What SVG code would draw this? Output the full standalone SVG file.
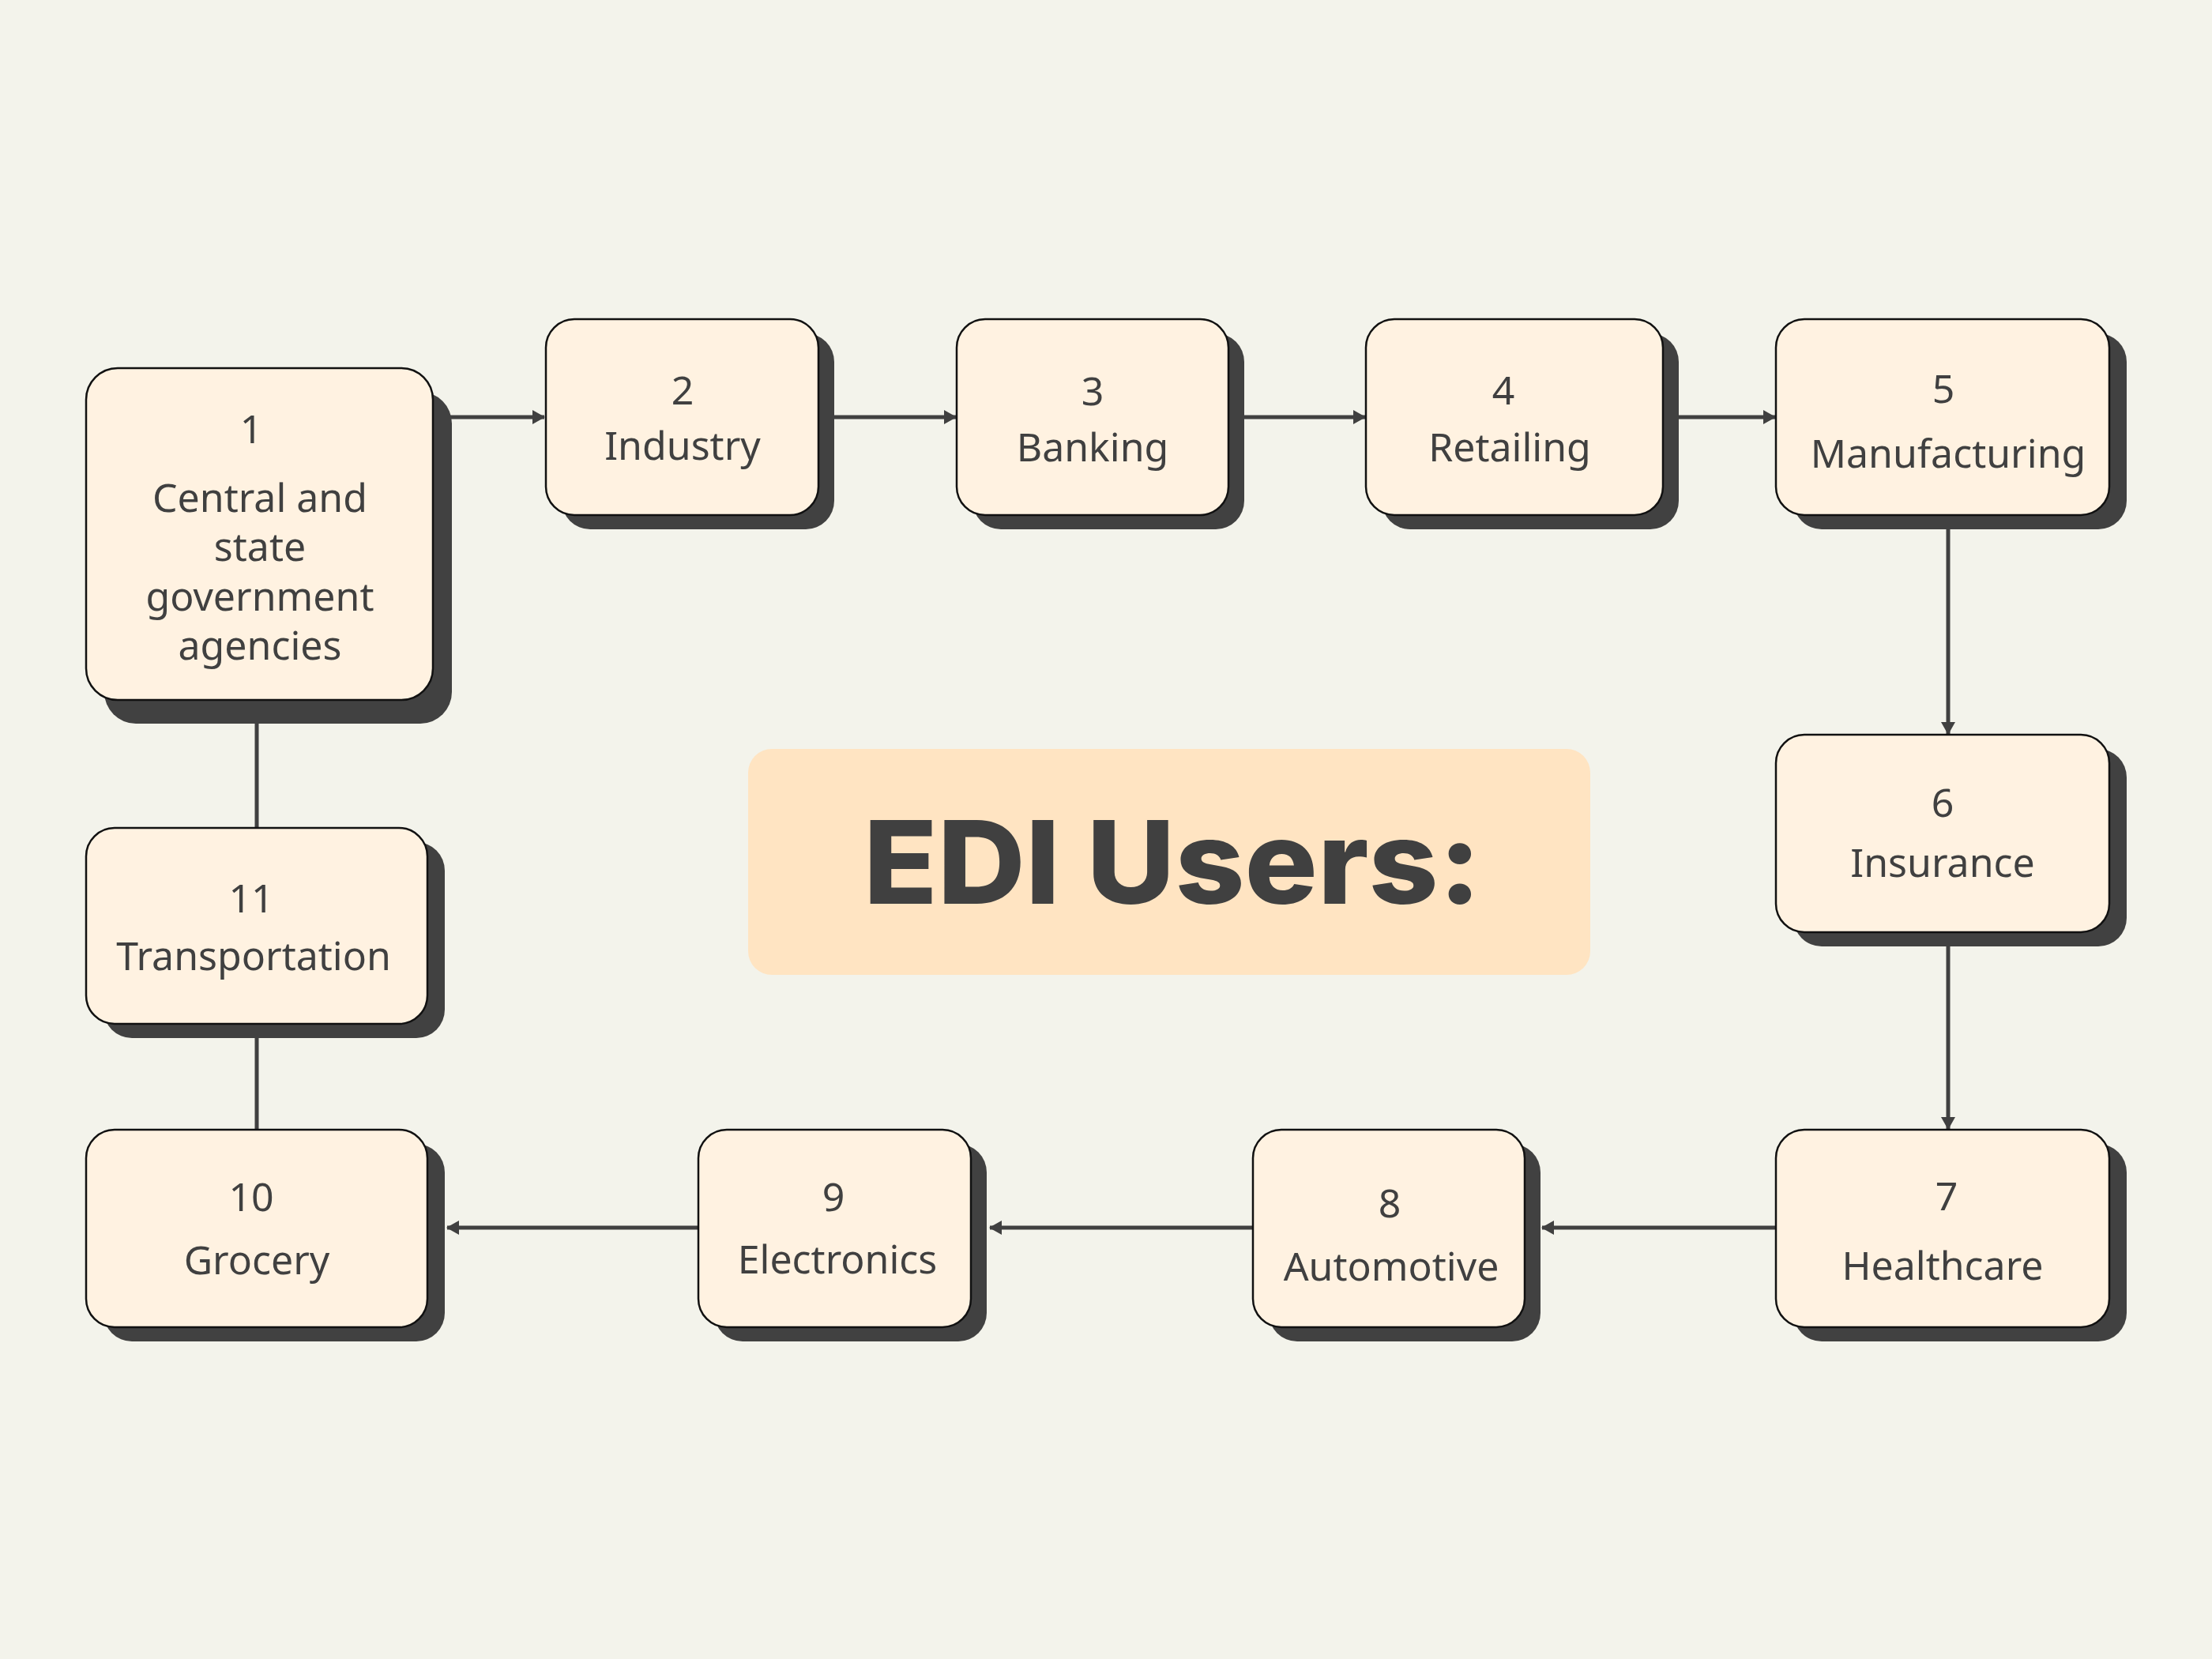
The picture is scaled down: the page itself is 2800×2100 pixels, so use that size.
<svg xmlns="http://www.w3.org/2000/svg" width="2800" height="2100" viewBox="0 0 2800 2100">
<style>
.sh{fill:#414141}
.bx{fill:#FFF2E1;stroke:#111;stroke-width:2.5}
.t{font-family:"Noto Sans","Liberation Sans",sans-serif;font-size:50px;fill:#404040;text-anchor:middle}
.c{stroke:#404040;stroke-width:5;fill:none}
.ttl{font-family:Inter,"Open Sans",sans-serif;font-weight:800;font-size:146px;fill:#404040;text-anchor:middle}
</style>
<defs>
<marker id="ah" markerUnits="userSpaceOnUse" markerWidth="16" markerHeight="18" refX="15" refY="9" orient="auto">
<path d="M0,0 L16,9 L0,18 z" fill="#404040"/>
</marker>
</defs>
<rect x="0" y="0" width="2800" height="2100" fill="#F3F3EB"/>
<g id="connectors">
<line class="c" x1="548" y1="528" x2="689" y2="528" marker-end="url(#ah)"/>
<line class="c" x1="1036" y1="528" x2="1210" y2="528" marker-end="url(#ah)"/>
<line class="c" x1="1555" y1="528" x2="1728" y2="528" marker-end="url(#ah)"/>
<line class="c" x1="2105" y1="528" x2="2247" y2="528" marker-end="url(#ah)"/>
<line class="c" x1="2466" y1="652" x2="2466" y2="929" marker-end="url(#ah)"/>
<line class="c" x1="2466" y1="1180" x2="2466" y2="1429" marker-end="url(#ah)"/>
<line class="c" x1="2248" y1="1554" x2="1952" y2="1554" marker-end="url(#ah)"/>
<line class="c" x1="1586" y1="1554" x2="1253" y2="1554" marker-end="url(#ah)"/>
<line class="c" x1="884" y1="1554" x2="566" y2="1554" marker-end="url(#ah)"/>
<line class="c" x1="325" y1="886" x2="325" y2="1048"/>
<line class="c" x1="325" y1="1296" x2="325" y2="1430"/>
</g>
<g id="title">
<rect x="947" y="948" width="1066" height="286" rx="30" ry="30" fill="#FFE4C2"/>
<text class="ttl" x="1484" y="1144" textLength="782" lengthAdjust="spacingAndGlyphs">EDI Users:</text>
</g>
<g id="node1">
<rect class="sh" x="132" y="496" width="440" height="420" rx="40"/>
<rect class="bx" x="109" y="466" width="439" height="420" rx="40"/>
<text class="t" x="318" y="561">1</text>
<text class="t" x="329" y="648">Central and</text>
<text class="t" x="329" y="710">state</text>
<text class="t" x="329" y="773">government</text>
<text class="t" x="329" y="835">agencies</text>
</g>
<g id="node2">
<rect class="sh" x="711" y="422" width="345" height="248" rx="36"/>
<rect class="bx" x="691" y="404" width="345" height="248" rx="36"/>
<text class="t" x="864" y="512">2</text>
<text class="t" x="864" y="582">Industry</text>
</g>
<g id="node3">
<rect class="sh" x="1231" y="422" width="344" height="248" rx="36"/>
<rect class="bx" x="1211" y="404" width="344" height="248" rx="36"/>
<text class="t" x="1383" y="513">3</text>
<text class="t" x="1383" y="584">Banking</text>
</g>
<g id="node4">
<rect class="sh" x="1749" y="422" width="376" height="248" rx="36"/>
<rect class="bx" x="1729" y="404" width="376" height="248" rx="36"/>
<text class="t" x="1903" y="512">4</text>
<text class="t" x="1911" y="584">Retailing</text>
</g>
<g id="node5">
<rect class="sh" x="2270" y="422" width="422" height="248" rx="36"/>
<rect class="bx" x="2248" y="404" width="422" height="248" rx="36"/>
<text class="t" x="2460" y="510">5</text>
<text class="t" x="2466" y="592">Manufacturing</text>
</g>
<g id="node6">
<rect class="sh" x="2270" y="948" width="422" height="250" rx="36"/>
<rect class="bx" x="2248" y="930" width="422" height="250" rx="36"/>
<text class="t" x="2459" y="1034">6</text>
<text class="t" x="2459" y="1110">Insurance</text>
</g>
<g id="node7">
<rect class="sh" x="2270" y="1448" width="422" height="250" rx="36"/>
<rect class="bx" x="2248" y="1430" width="422" height="250" rx="36"/>
<text class="t" x="2464" y="1532">7</text>
<text class="t" x="2459" y="1620">Healthcare</text>
</g>
<g id="node8">
<rect class="sh" x="1606" y="1448" width="344" height="250" rx="36"/>
<rect class="bx" x="1586" y="1430" width="344" height="250" rx="36"/>
<text class="t" x="1759" y="1541">8</text>
<text class="t" x="1761" y="1621">Automotive</text>
</g>
<g id="node9">
<rect class="sh" x="904" y="1448" width="345" height="250" rx="36"/>
<rect class="bx" x="884" y="1430" width="345" height="250" rx="36"/>
<text class="t" x="1055" y="1533">9</text>
<text class="t" x="1060" y="1612">Electronics</text>
</g>
<g id="node10">
<rect class="sh" x="131" y="1448" width="432" height="250" rx="36"/>
<rect class="bx" x="109" y="1430" width="432" height="250" rx="36"/>
<text class="t" x="318" y="1533">10</text>
<text class="t" x="325" y="1613">Grocery</text>
</g>
<g id="node11">
<rect class="sh" x="131" y="1066" width="432" height="248" rx="36"/>
<rect class="bx" x="109" y="1048" width="432" height="248" rx="36"/>
<text class="t" x="318" y="1155">11</text>
<text class="t" x="321" y="1228">Transportation</text>
</g>
</svg>
